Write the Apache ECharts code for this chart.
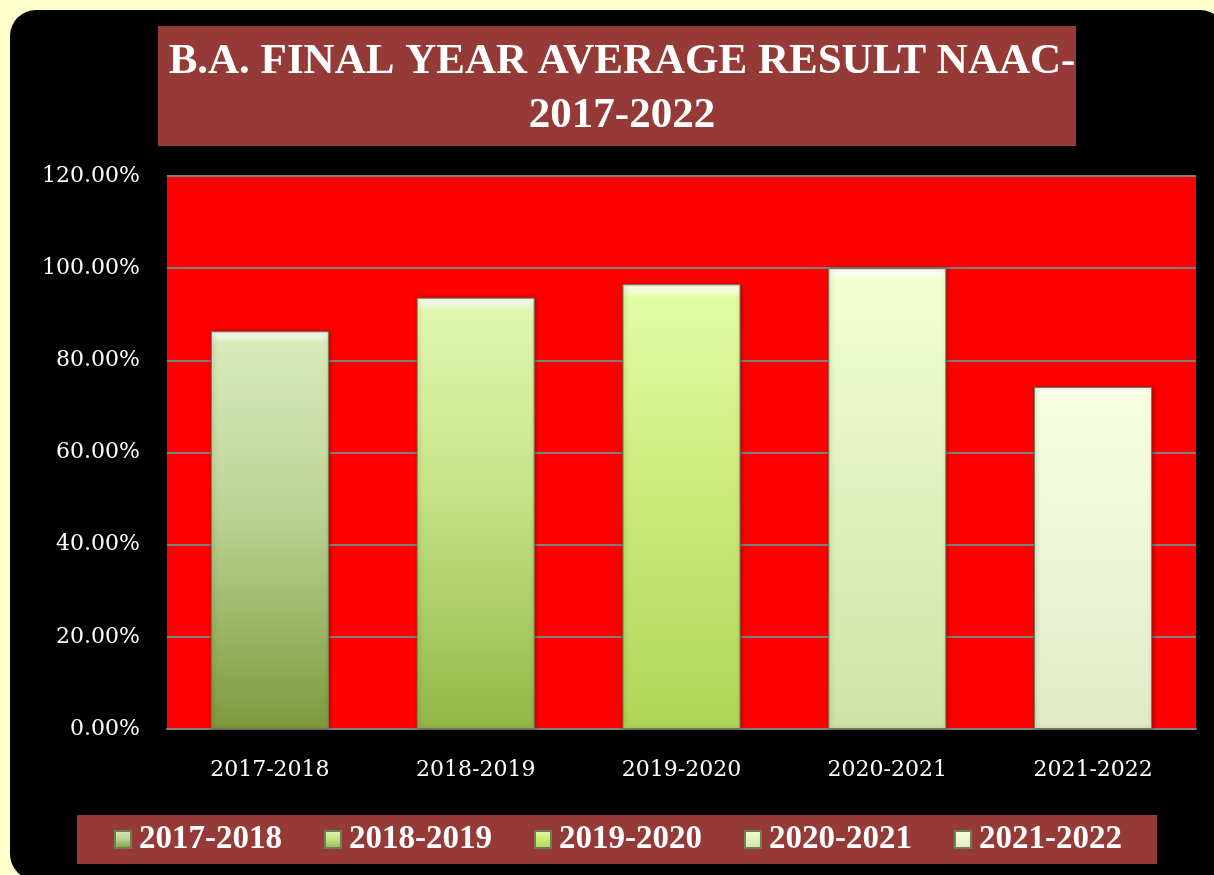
<!DOCTYPE html>
<html>
<head>
<meta charset="utf-8">
<script src="https://cdn.jsdelivr.net/npm/echarts@6/dist/echarts.min.js"></script>
<style>
  html, body { margin: 0; padding: 0; background: #ffffcc; }
  #chart { width: 1214px; height: 875px; }
</style>
</head>
<body>
<div id="chart"></div>
<script>
// data
var years = ['2017-2018', '2018-2019', '2019-2020', '2020-2021', '2021-2022'];
var results = [86.3, 93.6, 96.5, 100.0, 74.2];
var yTicks = [0, 20, 40, 60, 80, 100, 120];

// top / middle / bottom colours of each bar gradient
var topColors = ['#d9e9bb', '#e0f6b0', '#e2fca4', '#f2fecf', '#f8ffe0'];
var midColors = ['#bdd395', '#c6e486', '#cdeb7e', '#e3f1be', '#eef6d6'];
var bottomColors = ['#7e9a3c', '#92b748', '#aed657', '#cfe2a6', '#e0ebc6'];

var chart = echarts.init(document.getElementById('chart'));

function barGradient(i) {
    return new echarts.graphic.LinearGradient(0, 0, 0, 1, [
        { offset: 0, color: '#ffffff' },
        { offset: 0.03, color: topColors[i] },
        { offset: 0.45, color: midColors[i] },
        { offset: 1, color: bottomColors[i] }
    ]);
}

var series = years.map(function (y, i) {
    var data = years.map(function (c, j) { return j === i ? results[i] : '-'; });
    return {
        name: y,
        type: 'bar',
        data: data,
        barWidth: 118,
        barGap: '-100%',
        itemStyle: {
            color: barGradient(i),
            borderColor: '#6f7f55',
            borderWidth: 1,
            shadowColor: 'rgba(0,0,0,0.35)',
            shadowBlur: 4,
            shadowOffsetX: 1
        }
    };
});

chart.setOption({
    backgroundColor: '#ffffcc',
    animation: false,
    graphic: [
        {
            type: 'rect',
            z: -10,
            shape: { x: 10, y: 10, width: 1216, height: 870, r: 26 },
            style: { fill: '#000000' }
        },
        {
            type: 'rect',
            z: -5,
            shape: { x: 158, y: 26, width: 918, height: 120 },
            style: { fill: '#963a38' }
        },
        {
            type: 'rect',
            z: -5,
            shape: { x: 77, y: 815, width: 1080, height: 49 },
            style: { fill: '#963a38' }
        }
    ],
    title: {
        text: 'B.A. FINAL YEAR AVERAGE RESULT NAAC-\n2017-2022',
        left: 617,
        textAlign: 'center',
        top: 30,
        textStyle: {
            color: '#ffffff',
            fontFamily: 'Liberation Serif',
            fontWeight: 'bold',
            fontSize: 43,
            lineHeight: 54
        }
    },
    legend: {
        data: years,
        left: 109,
        top: 818,
        itemWidth: 16,
        itemHeight: 17,
        itemGap: 42,
        icon: 'rect',
        textStyle: {
            color: '#ffffff',
            fontFamily: 'Liberation Serif',
            fontWeight: 'bold',
            fontSize: 33,
            padding: [2, 0, 0, 3]
        }
    },
    grid: {
        left: 167,
        right: 18,
        top: 176,
        bottom: 146,
        show: true,
        backgroundColor: '#ff0000',
        borderWidth: 0
    },
    xAxis: {
        type: 'category',
        data: years,
        axisTick: { show: false },
        axisLine: { lineStyle: { color: '#7f7f7f', width: 2 } },
        axisLabel: {
            color: '#ffffff',
            fontFamily: 'DejaVu Serif',
            fontSize: 22,
            margin: 30
        }
    },
    yAxis: {
        type: 'value',
        min: yTicks[0],
        max: yTicks[yTicks.length - 1],
        interval: 20,
        axisLine: { show: false },
        axisTick: { show: false },
        splitLine: { lineStyle: { color: '#7f7f7f', width: 2 } },
        axisLabel: {
            color: '#ffffff',
            fontFamily: 'DejaVu Serif',
            fontSize: 22,
            margin: 27,
            formatter: function (v) { return v.toFixed(2) + '%'; }
        }
    },
    series: series
});
</script>
</body>
</html>
